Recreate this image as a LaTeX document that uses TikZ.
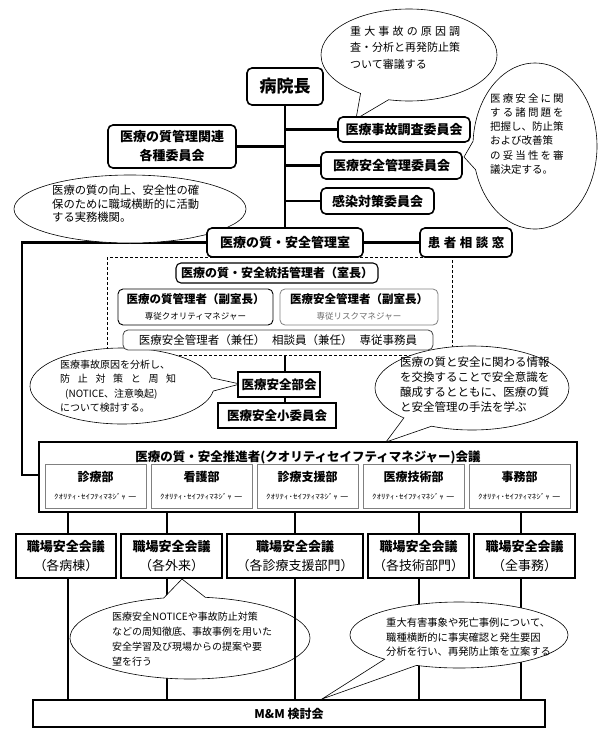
\documentclass[tikz,border=0pt]{standalone}
\usepackage{graphicx}
\usepackage{fontspec}
\setmainfont{Noto Sans CJK JP}
\usetikzlibrary{shapes.callouts}
\pgfdeclarelayer{bg}
\pgfdeclarelayer{mid}
\pgfdeclarelayer{fg}
\pgfsetlayers{bg,mid,main,fg}
\definecolor{gline}{gray}{0.5}
\definecolor{gtext}{gray}{0.42}
\tikzset{
  conn/.style={line width=2.4pt},
  lowconn/.style={line width=2pt},
  rbox/.style={draw, line width=1.6pt, rounded corners=5pt, fill=white, inner sep=0pt, font=\bfseries\fontsize{13}{15}\selectfont},
  lbox/.style={draw, line width=0.9pt, rounded corners=5pt, fill=white, inner sep=0pt, align=center},
  sbox/.style={draw, line width=1.8pt, fill=white, inner sep=0pt, font=\bfseries\fontsize{12.5}{15}\selectfont},
  ibox/.style={draw=gline, line width=0.8pt, fill=white, inner sep=0pt, align=center, font=\fontsize{12}{18}\selectfont, minimum width=101pt, minimum height=44pt},
  wbox/.style={draw, line width=1.4pt, fill=white, inner sep=0pt, align=center, font=\fontsize{13}{19}\selectfont, minimum height=44pt},
  co/.style={ellipse callout, draw, line width=0.6pt, fill=white, inner sep=0pt, callout pointer arc=20},
  cot/.style={inner sep=0pt, anchor=north west, align=left},
}
\newcommand{\qsm}{{\fontsize{7}{9}\selectfont\scalebox{1.28}[1]{ｸｵﾘﾃｨ･ｾｲﾌﾃｨﾏﾈｼﾞｬ ー}}}
\begin{document}
\begin{tikzpicture}[x=1pt,y=-1pt]
\useasboundingbox (0,0) rectangle (600,734);
% ---------- coordinates ----------
\coordinate (L1) at (22,242.5);
\coordinate (L2) at (22,475);
\coordinate (dB) at (285,355);
\coordinate (v1) at (68,0);
\coordinate (v2) at (167,0);
\coordinate (v3) at (295,0);
\coordinate (v4) at (419,0);
\coordinate (v5) at (521,0);
\coordinate (t1) at (356,119);
\coordinate (t2) at (464,157);
\coordinate (t3) at (218,232);
\coordinate (t4) at (240,384);
\coordinate (t5) at (386,442);
\coordinate (t6) at (182,579);
\coordinate (t7) at (322,699);
% ---------- boxes ----------
\node[rbox, font=\bfseries\fontsize{17}{20}\selectfont, minimum width=76pt, minimum height=37pt] (boss) at (285,86.5) {病院長};
\node[rbox, minimum width=132pt, minimum height=25pt] (jiko) at (404,129.5) {医療事故調査委員会};
\node[rbox, align=center, font=\bfseries\fontsize{13}{19}\selectfont, minimum width=128pt, minimum height=43pt] (kakushu) at (172,146.5) {医療の質管理関連\\各種委員会};
\node[rbox, minimum width=141pt, minimum height=27pt] (akanri) at (391.5,165.5) {医療安全管理委員会};
\node[rbox, minimum width=113pt, minimum height=26pt] (kansen) at (377.5,201) {感染対策委員会};
\node[rbox, minimum width=156pt, minimum height=29pt] (room) at (285,242.5) {医療の質・安全管理室};
\node[rbox, font=\bfseries\fontsize{12.5}{15}\selectfont, minimum width=92pt, minimum height=29pt] (soudan) at (466,242.5) {患\hspace{3.5pt}者\hspace{3.5pt}相\hspace{3.5pt}談\hspace{3.5pt}窓};
\node[lbox, line width=1.1pt, font=\bfseries\fontsize{12}{15}\selectfont, minimum width=202pt, minimum height=20pt] (toukatsu) at (277,273) {医療の質・安全統括管理者（室長）};
\node[lbox, font=\fontsize{11.5}{16}\selectfont, minimum width=155pt, minimum height=36pt] (shitsu) at (195.5,307) {{\bfseries 医療の質管理者（副室長）}\\{\fontsize{8.5}{10}\selectfont 専従クオリティマネジャー}};
\node[lbox, draw=gline, line width=0.8pt, font=\fontsize{11.5}{16}\selectfont, minimum width=158pt, minimum height=36pt] (anzen) at (359,307) {{\bfseries 医療安全管理者（副室長）}\\{\color{gtext}\fontsize{8.5}{10}\selectfont 専従リスクマネジャー}};
\node[lbox, draw=black!75, line width=0.8pt, font=\fontsize{11.5}{14}\selectfont, minimum width=310pt, minimum height=20pt] (kennin) at (278,340) {医療安全管理者（兼任）\hspace{7pt}相談員（兼任）\hspace{7pt}専従事務員};
\node[sbox, minimum width=82pt, minimum height=25pt] (bukai) at (279,384.5) {医療安全部会};
\node[sbox, minimum width=118pt, minimum height=25pt] (sho) at (277,415.5) {医療安全小委員会};
\node[sbox, line width=2pt, minimum width=538pt, minimum height=70pt] (big) at (308,477) {};
\node[inner sep=0pt, font=\bfseries\fontsize{12.5}{15}\selectfont] (bigt) at (308,457) {医療の質・安全推進者(クオリティセイフティマネジャー)会議};
\node[ibox] (d1) at (95.5,486) {{\bfseries 診療部}\\\qsm};
\node[ibox] (d2) at (201.5,486) {{\bfseries 看護部}\\\qsm};
\node[ibox] (d3) at (307.5,486) {{\bfseries 診療支援部}\\\qsm};
\node[ibox] (d4) at (413.5,486) {{\bfseries 医療技術部}\\\qsm};
\node[ibox] (d5) at (519.5,486) {{\bfseries 事務部}\\\qsm};
\node[wbox, minimum width=100pt] (s1) at (66,556) {{\bfseries 職場安全会議}\\（各病棟）};
\node[wbox, minimum width=101pt] (s2) at (171.5,556) {{\bfseries 職場安全会議}\\（各外来）};
\node[wbox, minimum width=136pt] (s3) at (295,556) {{\bfseries 職場安全会議}\\（各診療支援部門）};
\node[wbox, minimum width=101pt] (s4) at (418.5,556) {{\bfseries 職場安全会議}\\（各技術部門）};
\node[wbox, minimum width=101pt] (s5) at (524.5,556) {{\bfseries 職場安全会議}\\（全事務）};
\node[sbox, line width=2.2pt, font=\bfseries\fontsize{12}{15}\selectfont, minimum width=512pt, minimum height=27pt] (mm) at (289,713.5) {M\&M 検討会};
% ---------- connectors ----------
\begin{pgfonlayer}{bg}
\draw[conn] (boss.south) -- (room.north);
\draw[conn] (kakushu.east) -- (kakushu.east -| boss);
\draw[conn] (jiko.west) -- (jiko.west -| boss);
\draw[conn] (akanri.west) -- (akanri.west -| boss);
\draw[conn] (kansen.west) -- (kansen.west -| boss);
\draw[conn] (room.east) -- (soudan.west);
\draw[conn] (room.west) -- (L1) -- (L2) -- (L2 -| big.west);
\draw[dashed, line width=0.7pt, dash pattern=on 3pt off 2pt] (107,257) rectangle (452,355);
\draw[conn] (dB) -- (dB |- bukai.north);
\draw[conn] (dB |- bukai.south) -- (dB |- sho.north);
\foreach \v/\s in {v1/s1,v2/s2,v3/s3,v4/s4,v5/s5}{
  \draw[lowconn] (\v |- big.south) -- (\v |- \s.north);
}
\foreach \v/\s in {v1/s1,v2/s2,v4/s4,v5/s5}{
  \draw[lowconn] (\v |- \s.south) -- (\v |- mm.north);
}
\end{pgfonlayer}
\begin{pgfonlayer}{fg}
\draw[lowconn] (v3 |- s3.south) -- (v3 |- mm.north);
\end{pgfonlayer}
% ---------- callouts ----------
\begin{pgfonlayer}{mid}
\node[co, minimum width=176pt, minimum height=92pt, callout absolute pointer=(t1)] (c1) at (409,55) {};
\node[cot, font=\fontsize{11}{16.5}\selectfont] (c1t) at (350,26) {\makebox[110pt][s]{重\hfill 大\hfill 事\hfill 故\hfill の\hfill 原\hfill 因\hfill 調}\\査・分析と再発防止策\\ついて審議する};
\node[co, minimum width=124pt, minimum height=166pt, callout absolute pointer=(t2)] (c2) at (535,146) {};
\node[cot, font=\fontsize{10.5}{14.3}\selectfont] (c2t) at (490,93) {\makebox[73.5pt][s]{医\hfill 療\hfill 安\hfill 全\hfill に\hfill 関}\\\makebox[73.5pt][s]{す\hfill る\hfill 諸\hfill 問\hfill 題\hfill を}\\把握し、防止策\\および改善策\\\makebox[73.5pt][s]{の\hfill 妥\hfill 当\hfill 性\hfill を\hfill 審}\\議決定する。};
\node[co, callout pointer arc=32, minimum width=232pt, minimum height=68pt, callout absolute pointer=(t3)] (c3) at (130,209) {};
\node[cot, font=\fontsize{11.3}{13.5}\selectfont] (c3t) at (52,185) {医療の質の向上、安全性の確\\保のために職域横断的に活動\\する実務機関。};
\node[co, minimum width=184pt, minimum height=76pt, callout absolute pointer=(t4)] (c4) at (122,386) {};
\node[cot, font=\fontsize{10}{14.3}\selectfont] (c4t) at (60,360) {医療事故原因を分析し、\\\makebox[116pt][s]{防\hfill 止\hfill 対\hfill 策\hfill と\hfill 周\hfill 知}\\\hspace{5pt}(NOTICE、注意喚起)\\について検討する。};
\node[co, minimum width=194pt, minimum height=84pt, callout absolute pointer=(t5)] (c5) at (472,388) {};
\node[cot, font=\fontsize{11.5}{15}\selectfont] (c5t) at (400,357) {医療の質と安全に関わる情報\\を交換することで安全意識を\\醸成するとともに、医療の質\\と安全管理の手法を学ぶ};
\node[co, minimum width=240pt, minimum height=82pt, callout absolute pointer=(t6)] (c6) at (190,638) {};
\node[cot, font=\fontsize{10}{15}\selectfont] (c6t) at (112,612) {医療安全NOTICEや事故防止対策\\などの周知徹底、事故事例を用いた\\安全学習及び現場からの提案や要\\望を行う};
\node[co, minimum width=218pt, minimum height=66pt, callout absolute pointer=(t7)] (c7) at (459,635) {};
\node[cot, font=\fontsize{10.3}{14.5}\selectfont] (c7t) at (386,618) {重大有害事象や死亡事例について、\\職種横断的に事実確認と発生要因\\分析を行い、再発防止策を立案する};
\end{pgfonlayer}
\end{tikzpicture}
\end{document}
